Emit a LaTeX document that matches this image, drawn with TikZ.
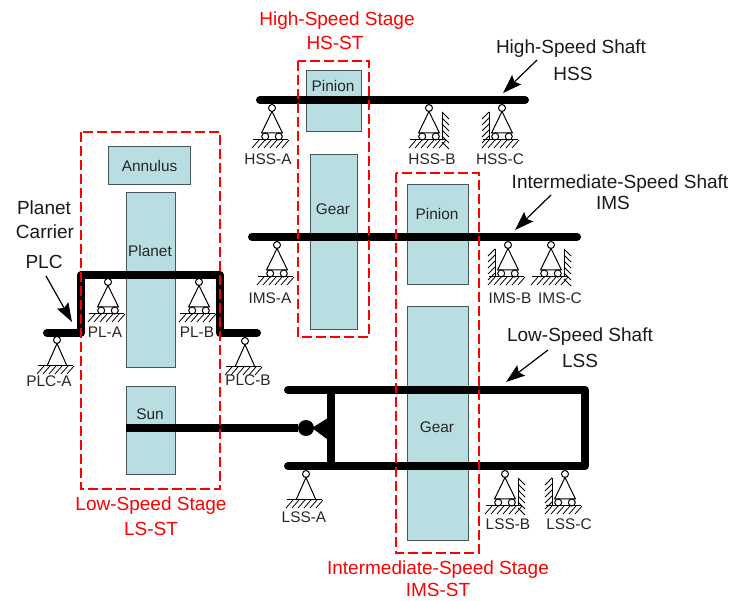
\documentclass[tikz,border=0pt]{standalone}
\usepackage{fontspec}
\setmainfont{Liberation Sans}
\usetikzlibrary{arrows.meta}
\definecolor{gearfill}{HTML}{B8DEE2}
\definecolor{geardraw}{HTML}{46565A}

\begin{document}
\begin{tikzpicture}[x=1pt,y=-1pt,>={Stealth[length=19pt,width=13pt,inset=3pt]},
  gear/.style={draw=geardraw,fill=gearfill,line width=1.2pt,anchor=north west,inner sep=0pt,
               font=\fontsize{15.4}{17}\selectfont,text=black!85},
  stage/.style={draw=red,line width=1.2pt,dash pattern=on 10pt off 4pt},
  shaft/.style={line width=8pt,line cap=round,line join=round},
  lab/.style={font=\fontsize{15.4}{17}\selectfont,text=black!85,inner sep=0pt},
  big/.style={font=\fontsize{19}{21}\selectfont,text=black!90,inner sep=0pt},
  redlab/.style={big,text=red},
  point/.style={->,line width=1.2pt},
  pics/pinsup/.style={code={
    \draw[line width=1pt,fill=white] (0,0) circle (3.5);
    \draw[line width=1pt] (-10,26) -- (0,3.5) -- (10,26);
    \draw[line width=1pt] (-19,26) -- (16,26);
    \foreach \hx in {-13,-7,...,17} \draw[line width=.8pt] (\hx,26) -- (\hx-7,34);
  }},
  pics/rollsup/.style={code={
    \draw[line width=1pt,fill=white] (0,0) circle (3.5);
    \draw[line width=1pt] (-10.5,25) -- (0,3.5) -- (10.5,25) -- cycle;
    \draw[line width=1pt,fill=white] (-6.8,28.5) circle (3.5) (6.8,28.5) circle (3.5);
    \draw[line width=1pt] (-19,32) -- (16,32);
    \foreach \hx in {-13,-7,...,17} \draw[line width=.8pt] (\hx,32) -- (\hx-7,40);
  }},
  pics/wallright/.style={code={
    \draw[line width=1pt] (13,4) -- (13,32);
    \foreach \hy in {4,10,...,34} \draw[line width=.8pt] (13,\hy) -- (20,\hy+7);
  }},
  pics/wallleft/.style={code={
    \draw[line width=1pt] (-13,4) -- (-13,32);
    \foreach \hy in {4,10,...,28} \draw[line width=.8pt] (-13,\hy) -- (-20,\hy+7);
  }}]
  \useasboundingbox (0,0) rectangle (732,601);

  % gears
  \node[gear,minimum width=82pt,minimum height=38pt] (annulus) at (108,146) {Annulus};
  \node[gear,minimum width=49pt,minimum height=175pt] (planet) at (126,192) {};
  \node[gear,minimum width=49pt,minimum height=88pt] (sun) at (126,386) {};
  \node[gear,minimum width=55pt,minimum height=61pt] (hspinion) at (306,70) {};
  \node[gear,minimum width=47pt,minimum height=175pt] (hsgear) at (310,154) {};
  \node[gear,minimum width=61pt,minimum height=100pt] (imspinion) at (407,184) {};
  \node[gear,minimum width=61pt,minimum height=234pt] (imsgear) at (407,306) {};
  \node[lab] (planettxt) at (150,251) {Planet};
  \node[lab] (suntxt) at (150,414) {Sun};
  \node[lab] (hspiniontxt) at (333,86) {Pinion};
  \node[lab] (hsgeartxt) at (333,209) {Gear};
  \node[lab] (imspiniontxt) at (437,214) {Pinion};
  \node[lab] (imsgeartxt) at (437,427) {Gear};

  % shafts
  \coordinate (hss1) at (260,100); \coordinate (hss2) at (525,100);
  \coordinate (ims1) at (252,237); \coordinate (ims2) at (577,237);
  \coordinate (lssa) at (288,390); \coordinate (lssb) at (585,390);
  \coordinate (lssc) at (585,466); \coordinate (lssd) at (288,466);
  \coordinate (lsse) at (331,390); \coordinate (lssf) at (331,466);
  \coordinate (plc1) at (47,333); \coordinate (plc2) at (81,333);
  \coordinate (plc3) at (81,275); \coordinate (plc4) at (220,275);
  \coordinate (plc5) at (220,333); \coordinate (plc6) at (257,333);
  \coordinate (sunend) at (126,428);
  \node[circle,fill=black,inner sep=0pt,minimum size=16pt] (hub) at (306,428) {};
  \draw[shaft] (hss1) -- (hss2);
  \draw[shaft] (ims1) -- (ims2);
  \draw[shaft] (lssa) -- (lssb) -- (lssc) -- (lssd);
  \draw[shaft] (lsse) -- (lssf);
  \draw[shaft] (plc1) -- (plc2) -- (plc3) -- (plc4) -- (plc5) -- (plc6);
  \draw[line width=7.5pt] (sunend) -- (hub);
  \fill (312,428) -- (331,416) -- (331,442) -- cycle;

  % supports
  \foreach \px/\py/\pname in {57/340/plca,245/341/plcb,306/474/lsa} \pic (\pname) at (\px,\py) {pinsup};
  \foreach \px/\py/\pname in {108/282/pla,199/282/plb,272/108/hsa,429/108/hsb,502/108/hsc,
                              277/245/ima,508/245/imb,551/245/imc,505/474/lsb,565/474/lsc}
    \pic (\pname) at (\px,\py) {rollsup};
  \pic (hsbw) at (429,108) {wallright};
  \pic (hscw) at (502,108) {wallleft};
  \pic (imbw) at (508,245) {wallleft};
  \pic (imcw) at (551,245) {wallright};
  \pic (lsbw) at (505,474) {wallright};
  \pic (lscw) at (565,474) {wallleft};

  % labels
  \node[lab] (plcalab) at (49,381) {PLC-A};
  \node[lab] (plcblab) at (248,380) {PLC-B};
  \node[lab] (palab) at (105,332) {PL-A};
  \node[lab] (pblab) at (197,332) {PL-B};
  \node[lab] (hsalab) at (268,159) {HSS-A};
  \node[lab] (hsblab) at (432,159) {HSS-B};
  \node[lab] (hsclab) at (500,159) {HSS-C};
  \node[lab] (imalab) at (270,298) {IMS-A};
  \node[lab] (imblab) at (510,298) {IMS-B};
  \node[lab] (imclab) at (560,298) {IMS-C};
  \node[lab] (lsalab) at (304,517) {LSS-A};
  \node[lab] (lsblab) at (508,524) {LSS-B};
  \node[lab] (lsclab) at (569,524) {LSS-C};

  % stages, on top of the shafts
  \draw[stage] (81,132) rectangle (220,489);
  \draw[stage] (298,61) rectangle (369,337);
  \draw[stage] (396,173) rectangle (479,553);
  \node[redlab] (hsttl) at (337,21) {High-Speed Stage};
  \node[redlab] (hstsub) at (335,43) {HS-ST};
  \node[redlab] (lsttl) at (151,506) {Low-Speed Stage};
  \node[redlab] (lstsub) at (151,529) {LS-ST};
  \node[redlab] (imttl) at (438,570) {Intermediate-Speed Stage};
  \node[redlab] (imtsub) at (438,590) {IMS-ST};

  % shaft names
  \node[big] (hssname) at (571,49) {High-Speed Shaft};
  \node[big] (hssabbr) at (573,74) {HSS};
  \node[big] (imsname) at (620,184) {Intermediate-Speed Shaft};
  \node[big] (imsabbr) at (613,203) {IMS};
  \node[big] (lssname) at (580,337) {Low-Speed Shaft};
  \node[big] (lssabbr) at (580,361) {LSS};
  \node[big] (carrier1) at (44,208) {Planet};
  \node[big] (carrier2) at (45,232) {Carrier};
  \node[big] (plcabbr) at (44,262) {PLC};

  \coordinate (hsstip) at (503,93); \coordinate (imstip) at (515,230);
  \coordinate (lsstip) at (506,382); \coordinate (plctip) at (72,322);
  \draw[point] (537,60) -- (hsstip);
  \draw[point] (551,195) -- (imstip);
  \draw[point] (548,350) -- (lsstip);
  \draw[point] (46,276) -- (plctip);
\end{tikzpicture}
\end{document}
